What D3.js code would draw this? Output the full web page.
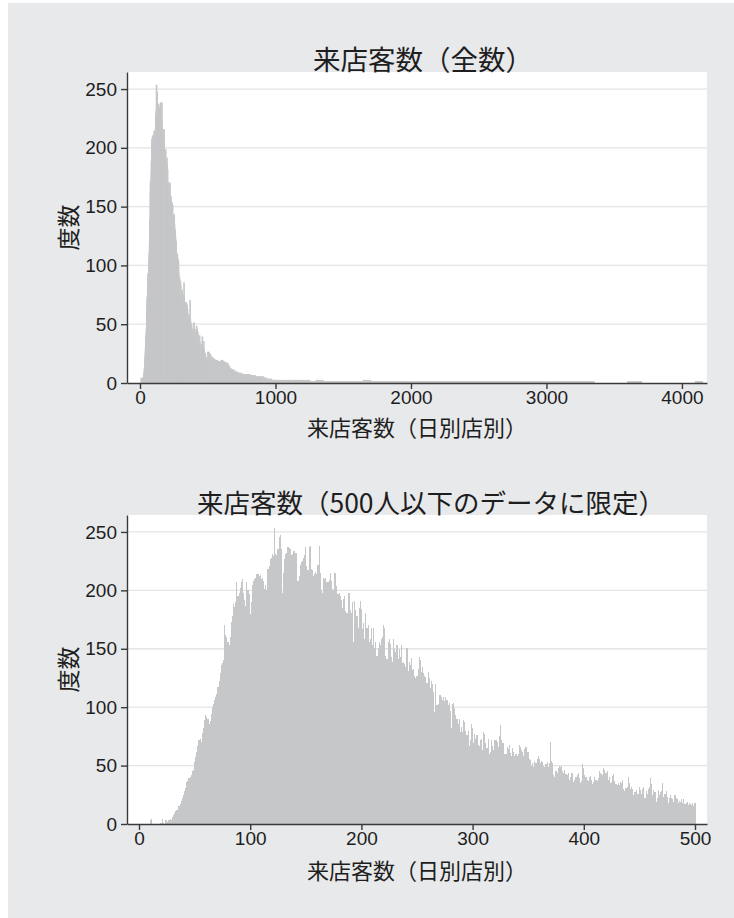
<!DOCTYPE html>
<html>
<head>
<meta charset="utf-8">
<script src="https://cdn.jsdelivr.net/npm/d3@7"></script>
<style>
  body { margin: 0; background: #ffffff; }
  svg text { fill: #1e1e1e; }
</style>
</head>
<body>
<svg id="chart" width="734" height="918"></svg>
<script>
// Daily per-store visitor counts: frequency of each visitor count 0..500
const visitCounts = [
  0,0,0,0,0,0,0,0,0,0,
  3,4,0,0,0,0,0,0,0,1,
  1,4,1,0,3,3,2,3,4,3,
  6,8,9,11,12,12,15,17,20,22,
  25,28,31,36,37,39,40,42,45,46,
  53,57,62,67,72,73,70,78,82,89,
  93,92,90,86,88,94,100,103,106,109,
  111,117,122,129,136,138,140,170,162,160,
  156,153,160,173,178,188,186,190,207,195,
  198,202,207,210,198,192,187,207,200,197,
  180,190,205,208,210,211,214,214,212,213,
  210,211,208,201,205,200,218,221,227,228,
  231,229,253,231,230,235,246,247,235,198,
  215,227,231,232,237,236,235,230,231,234,
  234,232,232,208,212,222,224,225,228,230,
  237,221,217,237,238,218,217,212,214,216,
  214,222,238,215,200,198,211,210,211,207,
  207,209,215,208,201,200,215,215,204,197,
  198,195,192,185,193,195,182,181,198,198,
  183,181,190,156,191,183,178,168,185,191,
  184,167,172,158,181,168,170,156,158,168,
  153,168,151,156,144,151,156,153,158,160,
  170,168,144,141,156,158,154,143,139,158,
  150,147,153,141,150,143,153,138,139,137,
  134,151,131,139,136,142,132,133,127,125,
  127,133,143,140,130,134,129,127,126,121,
  130,125,116,122,120,113,96,120,102,103,
  110,110,109,106,109,105,109,106,102,104,
  97,82,103,104,99,93,90,86,90,79,
  83,79,89,87,80,76,80,67,72,86,
  82,69,77,73,76,68,67,72,73,63,
  79,77,69,65,73,60,62,72,67,63,
  72,72,70,66,75,85,72,69,69,60,
  60,66,64,68,61,58,65,62,58,60,
  58,60,68,66,63,62,58,64,66,62,
  62,56,55,50,52,49,54,52,56,58,
  56,52,54,53,50,49,51,53,49,52,
  70,54,52,42,40,45,44,48,50,49,
  50,45,44,46,43,42,44,38,40,44,
  44,36,38,40,42,44,39,35,37,51,
  48,42,40,38,37,40,41,38,34,36,
  40,38,37,39,45,44,43,42,48,46,
  44,45,38,40,35,36,41,43,37,34,
  33,35,33,36,35,38,30,28,31,32,
  40,35,30,32,30,25,27,29,26,26,
  32,29,26,30,32,22,28,26,30,32,
  39,34,25,29,27,19,22,29,25,27,
  28,35,23,26,28,23,18,22,25,22,
  21,19,25,22,21,18,20,19,21,18,
  21,17,18,19,16,18,17,16,18,15,
  18
];

// Counts above 500, summarised per block (peak frequency within each block)
const tailMidStart = 501, tailMidStep = 10;
const tailMid = [
  26,24,22,21,20,19,19,18,18,18,
  19,18,17,17,16,14,12,11,11,10,
  9,9,8,8,8,7,7,7,7,7,
  7,6,6,6,6,5,5,5,5,5,
  5,4,4,3,3,3,3,2,2,2
];
const tailFarStart = 1001, tailFarStep = 50;
const tailFar = [
  2,2,2,2,2,1,2,1,1,1,
  1,1,1,2,1,1,1,1,1,1,
  1,1,1,1,1,1,1,1,1,1,
  1,1,1,1,1,1,1,1,1,1,
  1,1,1,1,1,1,1,0,0,0,
  0,0,1,1,0,0,0,0,0,0,
  0,0,1,0
];

const topTicks = [0, 1000, 2000, 3000, 4000];
const bottomTicks = [0, 100, 200, 300, 400, 500];
const yTicks = [0, 50, 100, 150, 200, 250];
const titleAll = "来店客数（全数）";
const titleLimited = "来店客数（500人以下のデータに限定）";
const xTitle = "来店客数（日別店別）";
const yTitle = "度数";

const BAR = "#c6c7c9";
const GRID = "#e4e4e4";
const AXIS = "#3a3a3a";
const numFont = "'Liberation Sans', Arial, sans-serif";
const cjkFont = "'Noto Sans CJK JP', 'Noto Sans', sans-serif";

const svg = d3.select("#chart");
svg.append("rect")
  .attr("x", 8).attr("y", 3).attr("width", 726).attr("height", 915)
  .attr("fill", "#e8e9eb");

const singles = visitCounts.map((c, v) => ({ x0: v - 0.5, x1: v + 0.5, count: c }));
const blocks = (start, step, arr) =>
  arr.map((c, i) => ({ x0: start + i * step - 0.5, x1: start + (i + 1) * step - 0.5, count: c }));

function panel(cfg) {
  const { left, right, top, bottom } = cfg;
  const x = d3.scaleLinear().domain(cfg.xDomain).range([left, right]);
  const y = d3.scaleLinear().domain([0, 264.5]).range([bottom, top]);
  const g = svg.append("g");

  g.append("rect")
    .attr("x", left).attr("y", top)
    .attr("width", right - left).attr("height", bottom - top)
    .attr("fill", "#ffffff");

  g.append("g").selectAll("line")
    .data(yTicks.filter(t => t > 0))
    .join("line")
    .attr("x1", left).attr("x2", right)
    .attr("y1", d => y(d)).attr("y2", d => y(d))
    .attr("stroke", GRID).attr("stroke-width", 1.3);

  const bars = g.append("g")
    .attr("shape-rendering", cfg.crisp ? "crispEdges" : "auto");
  bars.selectAll("rect")
    .data(cfg.bins.filter(d => d.count > 0))
    .join("rect")
    .attr("x", d => x(d.x0))
    .attr("width", d => x(d.x1) - x(d.x0))
    .attr("y", d => y(d.count))
    .attr("height", d => y(0) - y(d.count))
    .attr("fill", BAR)
    .attr("stroke", cfg.barStroke ? BAR : "none")
    .attr("stroke-width", cfg.barStroke);

  const yAxis = g.append("g")
    .attr("transform", `translate(${left},0)`)
    .call(d3.axisLeft(y).tickValues(yTicks).tickSize(6).tickSizeOuter(0).tickPadding(4)
      .tickFormat(d3.format("d")));
  const xAxis = g.append("g")
    .attr("transform", `translate(0,${bottom})`)
    .call(d3.axisBottom(x).tickValues(cfg.ticks).tickSize(6).tickSizeOuter(0).tickPadding(2)
      .tickFormat(d3.format("d")));

  [yAxis, xAxis].forEach(a => {
    a.select(".domain").attr("stroke", AXIS).attr("stroke-width", 1.4);
    a.selectAll(".tick line").attr("stroke", AXIS).attr("stroke-width", 1.4);
    a.selectAll(".tick text")
      .attr("font-family", numFont).attr("font-size", 19).attr("fill", "#1e1e1e");
  });

  const cx = (left + right) / 2;
  g.append("text")
    .attr("x", cx + cfg.titleShift).attr("y", top - 2)
    .attr("text-anchor", "middle")
    .attr("font-family", cjkFont).attr("font-size", cfg.titleSize)
    .text(cfg.title);

  g.append("text")
    .attr("x", cx).attr("y", bottom + cfg.xTitleGap)
    .attr("text-anchor", "middle")
    .attr("font-family", cjkFont).attr("font-size", 22)
    .text(xTitle);

  g.append("text")
    .attr("transform", `translate(77,${(top + bottom) / 2}) rotate(-90)`)
    .attr("text-anchor", "middle")
    .attr("font-family", cjkFont).attr("font-size", 23)
    .text(yTitle);
}

panel({
  left: 127, right: 707, top: 72, bottom: 383,
  xDomain: [-96, 4185], ticks: topTicks, title: titleAll,
  titleSize: 27.5, titleShift: 6, xTitleGap: 53,
  bins: singles.concat(blocks(tailMidStart, tailMidStep, tailMid), blocks(tailFarStart, tailFarStep, tailFar)),
  barStroke: 1.5, crisp: false
});

panel({
  left: 127, right: 707, top: 515, bottom: 824,
  xDomain: [-10.8, 510.8], ticks: bottomTicks, title: titleLimited,
  titleSize: 26.5, titleShift: 14, xTitleGap: 55,
  bins: singles, barStroke: 0, crisp: true
});
</script>
</body>
</html>
